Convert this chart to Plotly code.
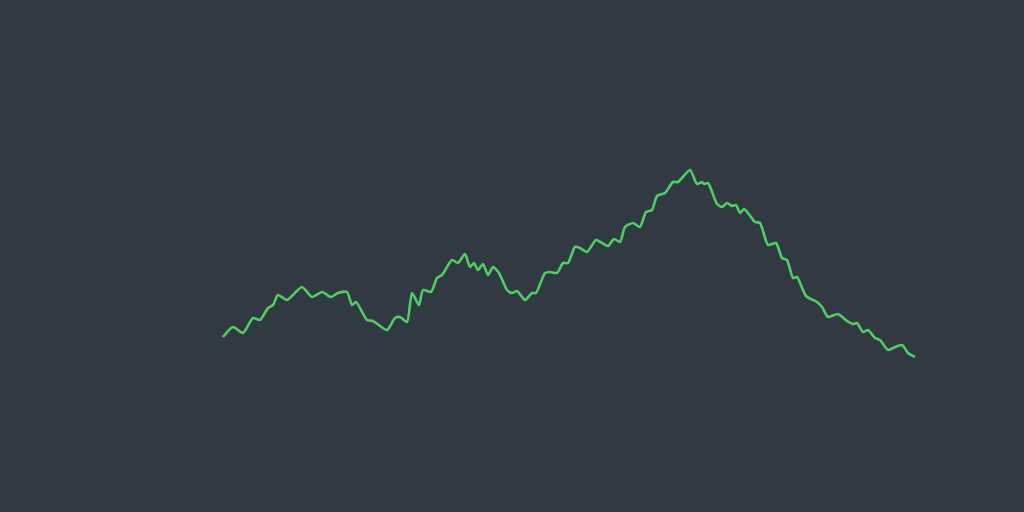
import plotly.graph_objects as go

# Series (arbitrary units)
t = [0, 10, 20, 30, 37, 45, 50, 55, 64, 79, 89, 99, 108, 115, 124, 129, 133, 144, 150, 164,
     172, 177, 184, 189, 196, 200, 208, 214, 219, 229, 235, 242, 247, 251, 255, 260, 265, 270,
     276, 284, 289, 294, 302, 309, 313, 322, 327, 334, 340, 345, 352, 357, 364, 373, 379, 385,
     391, 397, 402, 410, 417, 423, 429, 434, 442, 450, 455, 467, 474, 479, 481, 485, 494, 499,
     504, 509, 513, 517, 521, 525, 532, 537, 545, 553, 559, 564, 570, 574, 583, 594, 599, 605,
     615, 624, 630, 634, 640, 645, 652, 657, 665, 670, 679, 685, 692]
values = [175, 185, 179, 194, 192, 204, 207, 217, 212, 225, 215, 220, 215, 219, 220, 207, 210,
          192, 191, 182, 194, 195, 190, 219, 207, 222, 220, 234, 237, 252, 249, 258, 245, 249,
          242, 248, 237, 245, 239, 222, 219, 221, 212, 219, 219, 239, 240, 239, 249, 249, 265,
          264, 260, 272, 269, 266, 273, 270, 285, 289, 285, 300, 302, 316, 319, 330, 330, 342,
          328, 330, 328, 329, 308, 305, 309, 306, 307, 299, 303, 299, 290, 289, 267, 269, 254,
          252, 234, 235, 216, 210, 205, 195, 198, 191, 188, 189, 180, 182, 174, 172, 162, 164,
          167, 159, 155]

fig = go.Figure(go.Scatter(x=t, y=values, mode="lines",
                           line=dict(color="#4fcf62", width=2.6, shape="spline", smoothing=0.6),
                           hoverinfo="skip"))
fig.update_layout(
    width=1024, height=512,
    margin=dict(l=0, r=0, t=0, b=0),
    paper_bgcolor="#313942", plot_bgcolor="#313942",
    showlegend=False,
    xaxis=dict(range=[-223, 801], visible=False, showgrid=False, zeroline=False),
    yaxis=dict(range=[0, 512], visible=False, showgrid=False, zeroline=False),
)
fig.write_html("out.html", config={"displayModeBar": False},
               post_script="document.body.style.margin='0';document.body.style.background='#313942';")
